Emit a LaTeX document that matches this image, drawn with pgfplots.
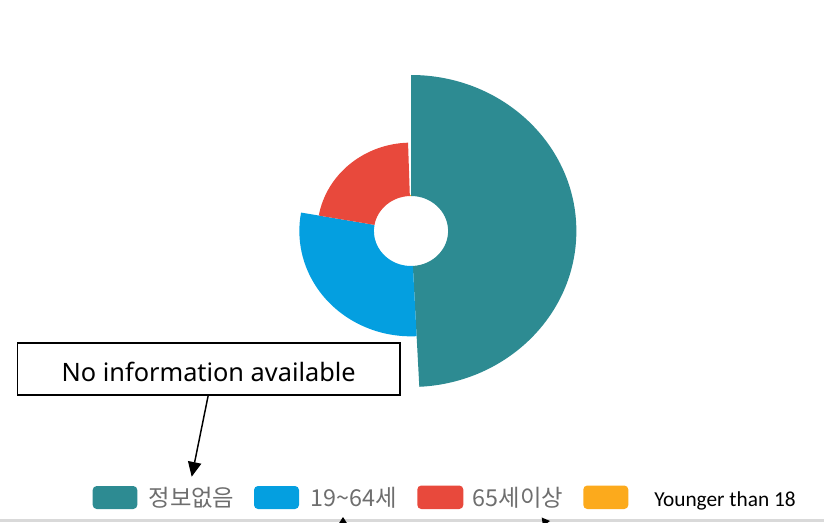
\documentclass[border=0pt]{standalone}
\usepackage{pgfplots}
\pgfplotsset{compat=1.18}
\usepackage{pgfplotstable}
\usepackage{fontspec}
\setmainfont{Noto Sans}
\newfontfamily\kr{Noto Sans CJK KR}
\newfontfamily\carl{Carlito}
\usetikzlibrary{arrows.meta}
\definecolor{cteal}{HTML}{2D8B92}
\definecolor{cblue}{HTML}{049FE0}
\definecolor{cred}{HTML}{E8493C}
\definecolor{corange}{HTML}{FCAA1C}
\definecolor{legendgray}{HTML}{6E6E6E}
\pgfplotstableread{
key value
info 49.2
adult 28.6
senior 21.7
young 0.5
}\agetable
\pgfplotstablegetelem{0}{value}\of\agetable \let\vA\pgfplotsretval
\pgfplotstablegetelem{1}{value}\of\agetable \let\vB\pgfplotsretval
\pgfplotstablegetelem{2}{value}\of\agetable \let\vC\pgfplotsretval
\pgfplotstablegetelem{3}{value}\of\agetable \let\vD\pgfplotsretval
\pgfmathsetmacro\tot{\vA+\vB+\vC+\vD}
\pgfmathsetmacro\vmax{max(\vA,\vB,\vC,\vD)}
\pgfmathsetmacro\eA{360*(\vA/\tot)}
\pgfmathsetmacro\eB{\eA+360*(\vB/\tot)}
\pgfmathsetmacro\eC{\eB+360*(\vC/\tot)}
\pgfmathsetmacro\eD{\eC+360*(\vD/\tot)}
\def\cx{411}\def\cy{291}\def\rin{35}\def\rout{156}\def\sx{1.06}\def\unitpt{0.75}
\newcommand\sector[4]{%
\pgfplotsextra{%
 \pgfmathsetmacro\sR{\rin+(\rout-\rin)*(#4/\vmax)}%
 \pgfmathsetmacro\sa{90-#2}%
 \pgfmathsetmacro\sb{90-#3}%
 \pgfmathsetmacro\oX{\cx+\sx*\sR*cos(\sa)}%
 \pgfmathsetmacro\oY{\cy+\sR*sin(\sa)}%
 \pgfmathsetmacro\iX{\cx+\sx*\rin*cos(\sb)}%
 \pgfmathsetmacro\iY{\cy+\rin*sin(\sb)}%
 \pgfmathsetmacro\oRx{\sx*\sR*\unitpt}%
 \pgfmathsetmacro\oRy{\sR*\unitpt}%
 \pgfmathsetmacro\iRx{\sx*\rin*\unitpt}%
 \pgfmathsetmacro\iRy{\rin*\unitpt}%
 \fill[#1] (axis cs:\oX,\oY) arc[start angle=\sa,end angle=\sb,x radius=\oRx pt,y radius=\oRy pt]
   -- (axis cs:\iX,\iY) arc[start angle=\sb,end angle=\sa,x radius=\iRx pt,y radius=\iRy pt] -- cycle;
}}
\begin{document}%
\begin{tikzpicture}
\begin{axis}[x=0.75pt,y=0.75pt,xmin=0,xmax=824,ymin=0,ymax=522,hide axis]
\addplot[draw=none,forget plot] coordinates {(411,291)};
\sector{cteal}{0}{\eA}{\vA}
\sector{cblue}{\eA}{\eB}{\vB}
\sector{cred}{\eB}{\eC}{\vC}
\sector{corange}{\eC}{\eD}{\vD}
% annotation box
\draw[line width=1.2pt] (axis cs:17.3,127) rectangle (axis cs:400,179.3);
\node[font=\fontsize{19}{22}\selectfont] at (axis cs:208.7,150.5) {No information available};
\draw[line width=1.1pt,-{Triangle[length=11pt,width=10pt]}] (axis cs:208.3,127) -- (axis cs:191.7,45.3);
% legend
\fill[cteal,rounded corners=3pt] (axis cs:92.7,13) rectangle (axis cs:137.3,36);
\node[anchor=west,text=legendgray,font=\kr\fontsize{17.5}{20}\selectfont,inner sep=0pt] at (axis cs:148.3,24.5) {정보없음};
\fill[cblue,rounded corners=3pt] (axis cs:254,13) rectangle (axis cs:299,36);
\node[anchor=west,text=legendgray,font=\kr\fontsize{17.5}{20}\selectfont,inner sep=0pt] at (axis cs:310,24.5) {19\textasciitilde64세};
\fill[cred,rounded corners=3pt] (axis cs:417.3,13) rectangle (axis cs:463.3,36.5);
\node[anchor=west,text=legendgray,font=\kr\fontsize{17.5}{20}\selectfont,inner sep=0pt] at (axis cs:472.7,24.5) {65세이상};
\fill[corange,rounded corners=3pt] (axis cs:583.3,13) rectangle (axis cs:628.3,36.5);
\node[anchor=base west,font=\carl\fontsize{16}{19}\selectfont,inner sep=0pt] at (axis cs:654,15.3) {Younger than 18};
% bottom band and cut-off arrowheads
\fill[black!15] (axis cs:0,0) rectangle (axis cs:824,3);
\fill (axis cs:343,5) -- (axis cs:338.5,-2) -- (axis cs:347.5,-2) -- cycle;
\fill (axis cs:541.7,4.5) -- (axis cs:550,1) -- (axis cs:543,-4) -- cycle;
\end{axis}
\pgfresetboundingbox
\useasboundingbox (current axis.south west) rectangle (current axis.north east);
\end{tikzpicture}%
\end{document}
